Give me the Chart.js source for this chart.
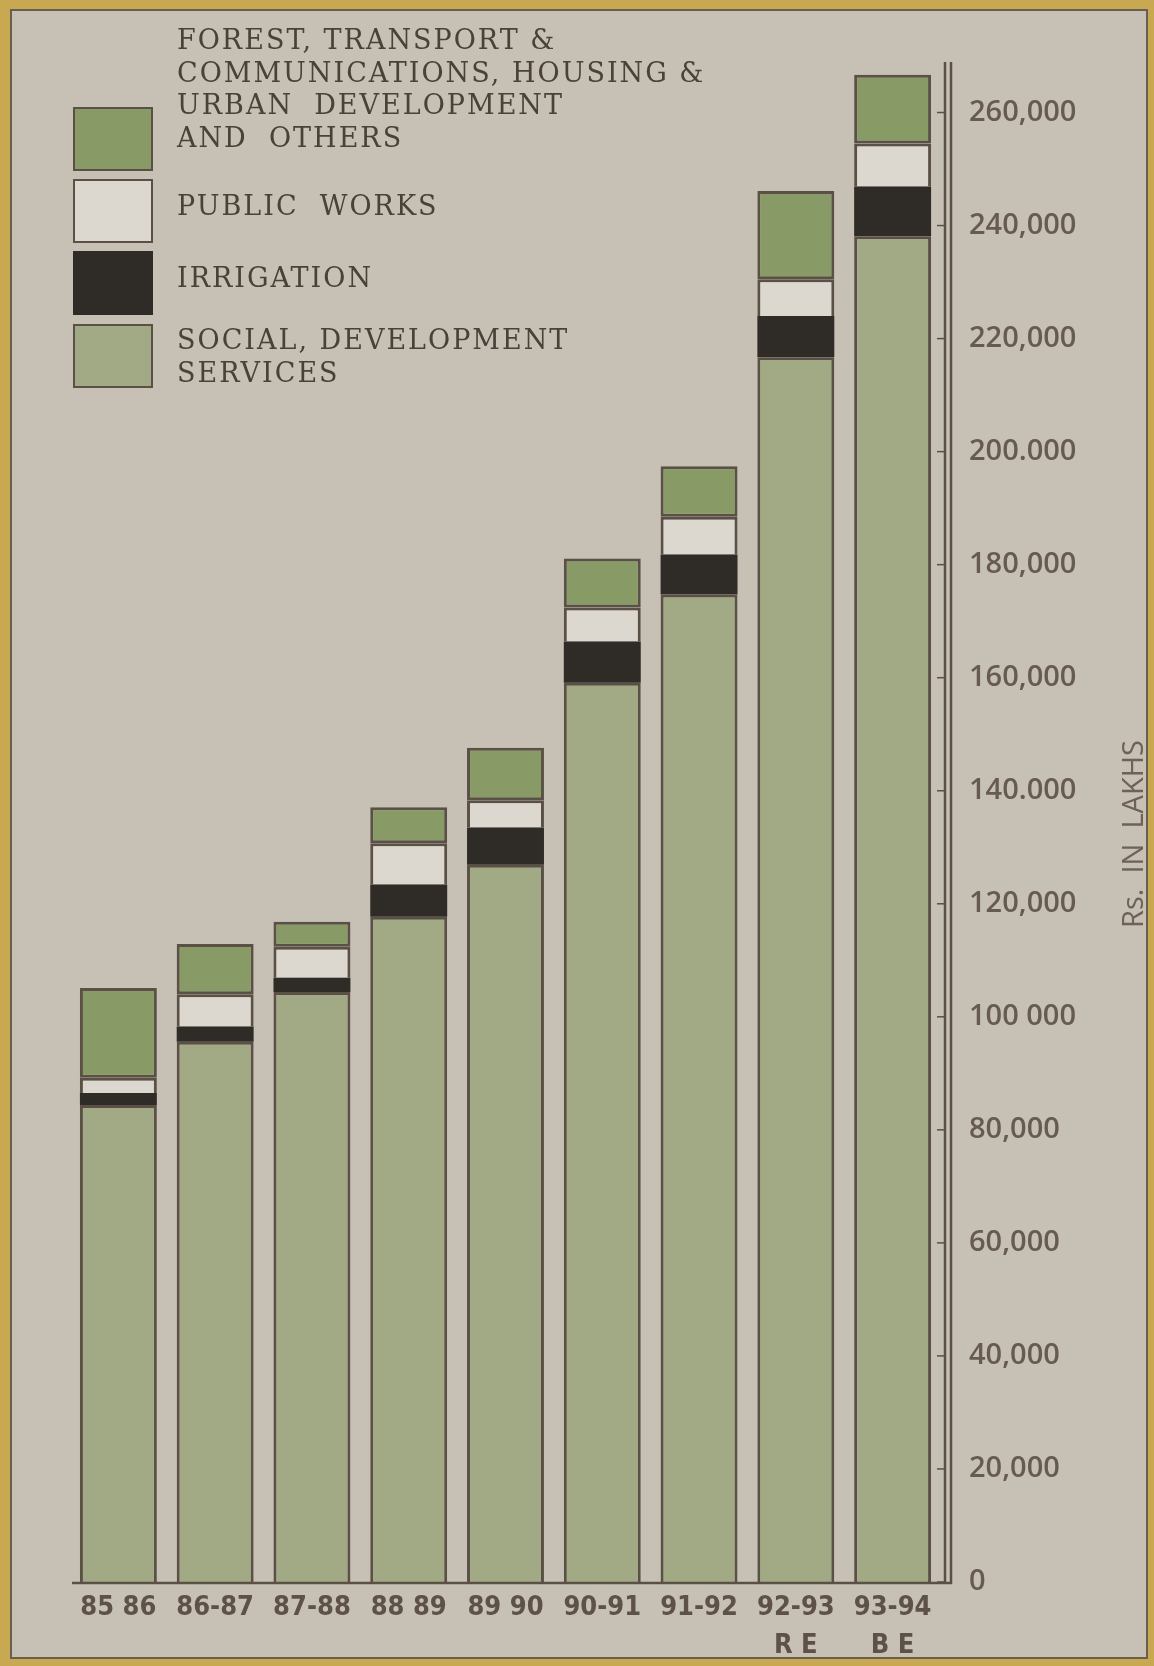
<!DOCTYPE html>
<html>
<head>
<meta charset="utf-8">
<script src="https://cdn.jsdelivr.net/npm/chart.js@4.4.1/dist/chart.umd.min.js"></script>
<style>
  html, body { margin: 0; padding: 0; background: #c9a852; }
  #bar-chart { display: block; }
</style>
</head>
<body>
<canvas id="bar-chart" width="1154" height="1666"></canvas>
<script>
var years = ['85 86', '86-87', '87-88', '88 89', '89 90', '90-91', '91-92', ['92-93', 'R E'], ['93-94', 'B E']];

// Rs. in lakhs
var socialServices = [84400, 95600, 104400, 117700, 126900, 159100, 174700, 216700, 238100];
var irrigation     = [2100, 2700, 2500, 5700, 6600, 7300, 7100, 7300, 8800];
var publicWorks    = [2700, 5700, 5500, 7300, 4800, 6000, 6700, 6500, 7600];
var forestOthers   = [15900, 8900, 4400, 6400, 9300, 8700, 8900, 15600, 12200];

var tickValues = [0, 20000, 40000, 60000, 80000, 100000, 120000, 140000, 160000, 180000, 200000, 220000, 240000, 260000];
var tickLabels = ['0', '20,000', '40,000', '60,000', '80,000', '100 000', '120,000', '140.000', '160,000', '180,000', '200.000', '220,000', '240,000', '260,000'];

var seriesNames = [
    ['SOCIAL, DEVELOPMENT', 'SERVICES'],
    ['IRRIGATION'],
    ['PUBLIC  WORKS'],
    ['FOREST, TRANSPORT &', 'COMMUNICATIONS, HOUSING &', 'URBAN  DEVELOPMENT', 'AND  OTHERS']
];
var axisTitle = 'Rs.  IN  LAKHS';

var ink = '#5a5046';

// paper, frame and the hand drawn bits
var paper = {
    id: 'paper',
    beforeDraw: function (chart) {
        var ctx = chart.ctx;
        ctx.save();
        ctx.fillStyle = '#c9a852';
        ctx.fillRect(0, 0, chart.width, chart.height);
        ctx.fillStyle = '#c7c0b5';
        ctx.fillRect(11, 10, 1136, 1648);
        ctx.strokeStyle = '#6a5e50';
        ctx.lineWidth = 2;
        ctx.strokeRect(11, 10, 1136, 1648);
        ctx.restore();
    },
    afterDraw: function (chart) {
        var ctx = chart.ctx;
        var y = chart.scales.y;
        var area = chart.chartArea;
        ctx.save();
        ctx.strokeStyle = ink;
        ctx.lineWidth = 2.5;

        // double axis line
        var x1 = area.right + 4, x2 = area.right + 10;
        ctx.beginPath();
        ctx.moveTo(x1, 62); ctx.lineTo(x1, area.bottom + 2);
        ctx.moveTo(x2, 62); ctx.lineTo(x2, area.bottom + 2);
        ctx.stroke();

        // tick marks
        ctx.lineWidth = 1.5;
        tickValues.forEach(function (v) {
            var py = y.getPixelForValue(v);
            ctx.beginPath();
            ctx.moveTo(x1 - 8, py); ctx.lineTo(x1, py);
            ctx.stroke();
        });

        // base line
        ctx.lineWidth = 2.5;
        ctx.beginPath();
        ctx.moveTo(area.left + 2, area.bottom + 1);
        ctx.lineTo(x2 + 1, area.bottom + 1);
        ctx.stroke();

        // axis title
        ctx.fillStyle = '#6e6258';
        ctx.font = '29px "Open Sans", sans-serif';
        ctx.textAlign = 'center';
        ctx.textBaseline = 'middle';
        ctx.translate(1135, 834);
        ctx.rotate(-Math.PI / 2);
        ctx.fillText(axisTitle, 0, 0);
        ctx.restore();

        // legend
        var items = [
            { ds: 3, swatchY: 108, textY: 42 },
            { ds: 2, swatchY: 180, textY: 208 },
            { ds: 1, swatchY: 252, textY: 280 },
            { ds: 0, swatchY: 325, textY: 342 }
        ];
        ctx.save();
        items.forEach(function (it) {
            var ds = chart.data.datasets[it.ds];
            ctx.fillStyle = ds.backgroundColor;
            ctx.fillRect(74, it.swatchY, 78, 62);
            ctx.strokeStyle = ds.borderWidth ? ink : ds.backgroundColor;
            ctx.lineWidth = 2;
            ctx.strokeRect(74, it.swatchY, 78, 62);
            ctx.fillStyle = '#4a4139';
            ctx.font = '27px "DejaVu Serif", serif';
            ctx.letterSpacing = '2px';
            ctx.textAlign = 'left';
            ctx.textBaseline = 'middle';
            ds.label.forEach(function (line, i) {
                ctx.fillText(line, 177, it.textY + i * 32.5);
            });
        });
        ctx.restore();
    }
};

var data = {
    labels: years,
    datasets: [{
        label: seriesNames[0],
        data: socialServices,
        backgroundColor: '#a2aa85',
        borderColor: ink,
        borderWidth: 3,
        borderSkipped: 'start'
    }, {
        label: seriesNames[1],
        data: irrigation,
        backgroundColor: '#2f2b27',
        borderWidth: 0
    }, {
        label: seriesNames[2],
        data: publicWorks,
        backgroundColor: '#dcd8cf',
        borderColor: ink,
        borderWidth: 3,
        borderSkipped: 'start'
    }, {
        label: seriesNames[3],
        data: forestOthers,
        backgroundColor: '#889b66',
        borderColor: ink,
        borderWidth: 3,
        borderSkipped: false
    }]
};

var options = {
    responsive: false,
    animation: false,
    devicePixelRatio: 1,
    layout: { padding: { top: 56, left: 70, right: 0, bottom: 0 } },
    datasets: { bar: { barPercentage: 0.795, categoryPercentage: 1 } },
    plugins: { legend: { display: false }, tooltip: { enabled: false } },
    scales: {
        x: {
            stacked: true,
            grid: { display: false, drawTicks: false },
            border: { display: false },
            ticks: {
                color: '#5e5248',
                padding: 7,
                font: { family: '"DejaVu Sans Condensed", sans-serif', size: 27, weight: 'bold', lineHeight: 1.4 }
            },
            afterFit: function (scale) { scale.height = 84; }
        },
        y: {
            stacked: true,
            position: 'right',
            min: 0,
            max: 270000,
            grid: { display: false, drawTicks: false },
            border: { display: false },
            afterBuildTicks: function (scale) {
                scale.ticks = tickValues.map(function (v) { return { value: v }; });
            },
            ticks: {
                color: '#675b51',
                padding: 28,
                font: { family: '"Open Sans", sans-serif', size: 29, weight: '600' },
                callback: function (v) { return tickLabels[tickValues.indexOf(v)]; }
            },
            afterFit: function (scale) { scale.width = 213; }
        }
    }
};

var barChart = new Chart(document.getElementById('bar-chart'), {
    type: 'bar',
    data: data,
    options: options,
    plugins: [paper]
});
</script>
</body>
</html>
